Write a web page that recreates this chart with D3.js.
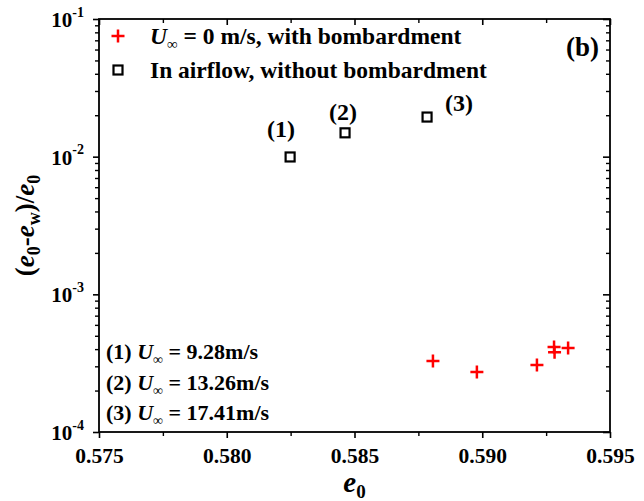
<!DOCTYPE html>
<html>
<head>
<meta charset="utf-8">
<script src="https://cdn.jsdelivr.net/npm/d3@7"></script>
<style>
  html, body { margin: 0; padding: 0; background: #fff; }
  svg { display: block; }
  text { font-family: "Liberation Serif", "Times New Roman", serif; font-weight: bold; fill: #000; }
</style>
</head>
<body>
<svg id="chart" width="644" height="501"></svg>
<script>
// Bare-surface emissivity without flow, with particle bombardment
const bombE0 = [0.58807, 0.58979, 0.59214, 0.59281, 0.59283, 0.59336];
const bombRatio = [3.28e-4, 2.73e-4, 3.07e-4, 4.14e-4, 3.80e-4, 4.07e-4];

// Emissivity drop in airflow, no bombardment
const airE0 = [0.58248, 0.58463, 0.58784];
const airRatio = [0.00995, 0.0149, 0.0194];
const airTags = ["(1)", "(2)", "(3)"];
const airSpeeds = ["9.28", "13.26", "17.41"];

// Axis ticks
const xMajor = [0.575, 0.580, 0.585, 0.590, 0.595];
const xMinor = [0.5775, 0.5825, 0.5875, 0.5925];
const yMajor = [1e-4, 1e-3, 1e-2, 1e-1];
const yExponents = ["-4", "-3", "-2", "-1"];

const legendLabels = [" = 0 m/s, with bombardment", "In airflow, without bombardment"];

const svg = d3.select("#chart");
const L = 99, R = 610, T = 19, B = 432;

const x = d3.scaleLinear().domain([0.575, 0.595]).range([L, R]);
const y = d3.scaleLog().domain([1e-4, 1e-1]).range([B, T]);

const yMinor = [];
yMajor.slice(0, 3).forEach(d => { for (let k = 2; k <= 9; k++) yMinor.push(d * k); });

// frame
svg.append("rect").attr("x", L).attr("y", T).attr("width", R - L).attr("height", B - T)
  .attr("fill", "none").attr("stroke", "#000").attr("stroke-width", 1.8);

// bottom axis (outward ticks with labels)
const gx = svg.append("g").attr("transform", `translate(0,${B})`)
  .call(d3.axisBottom(x).tickValues(xMajor).tickSize(6).tickPadding(10).tickFormat(d3.format(".3f")));
gx.select(".domain").remove();
gx.selectAll("line").attr("stroke-width", 1.6);
gx.selectAll("text").attr("font-size", 21.5).attr("font-family", null).attr("dy", "0.71em");
svg.append("g").attr("transform", `translate(0,${B})`)
  .call(d3.axisBottom(x).tickValues(xMinor).tickSize(4).tickFormat(""))
  .call(g => g.select(".domain").remove())
  .selectAll("line").attr("stroke-width", 1.4);

// top axis (inward ticks)
svg.append("g").attr("transform", `translate(0,${T})`)
  .call(d3.axisBottom(x).tickValues(xMajor).tickSize(6).tickFormat(""))
  .call(g => g.select(".domain").remove())
  .selectAll("line").attr("stroke-width", 1.6);
svg.append("g").attr("transform", `translate(0,${T})`)
  .call(d3.axisBottom(x).tickValues(xMinor).tickSize(4).tickFormat(""))
  .call(g => g.select(".domain").remove())
  .selectAll("line").attr("stroke-width", 1.4);

// left axis (outward ticks, power-of-ten labels)
const gy = svg.append("g").attr("transform", `translate(${L},0)`)
  .call(d3.axisLeft(y).tickValues(yMajor).tickSize(6).tickPadding(9).tickFormat(() => ""));
gy.select(".domain").remove();
gy.selectAll("line").attr("stroke-width", 1.6);
gy.selectAll(".tick text").each(function(d, i) {
  const t = d3.select(this).attr("font-size", 21).attr("font-family", null).attr("dy", "0.36em");
  t.append("tspan").text("10");
  t.append("tspan").attr("font-size", 14).attr("dy", "-0.75em").text(yExponents[i]);
});
svg.append("g").attr("transform", `translate(${L},0)`)
  .call(d3.axisLeft(y).tickValues(yMinor).tickSize(4).tickFormat(""))
  .call(g => g.select(".domain").remove())
  .selectAll("line").attr("stroke-width", 1.4);

// right axis (inward ticks)
svg.append("g").attr("transform", `translate(${R},0)`)
  .call(d3.axisRight(y).tickValues(yMajor).tickSize(-7).tickFormat(""))
  .call(g => g.select(".domain").remove())
  .selectAll("line").attr("stroke-width", 1.6);
svg.append("g").attr("transform", `translate(${R},0)`)
  .call(d3.axisRight(y).tickValues(yMinor).tickSize(-4).tickFormat(""))
  .call(g => g.select(".domain").remove())
  .selectAll("line").attr("stroke-width", 1.4);

// markers
const crossPath = "M-6.5,0H6.5M0,-6.5V6.5";
const squareSide = 9;

svg.append("g").selectAll("path").data(bombE0).join("path")
  .attr("transform", (d, i) => `translate(${x(d)},${y(bombRatio[i])})`)
  .attr("d", crossPath).attr("stroke", "#ff0000").attr("stroke-width", 2.5).attr("fill", "none");

svg.append("g").selectAll("rect").data(airE0).join("rect")
  .attr("x", d => x(d) - squareSide / 2)
  .attr("y", (d, i) => y(airRatio[i]) - squareSide / 2)
  .attr("width", squareSide).attr("height", squareSide)
  .attr("fill", "none").attr("stroke", "#000").attr("stroke-width", 2.2);

// point tags next to the airflow points
const tagOffset = [[-9, -20], [-2, -13], [32, -6]];
svg.append("g").selectAll("text").data(airE0).join("text")
  .attr("x", (d, i) => x(d) + tagOffset[i][0])
  .attr("y", (d, i) => y(airRatio[i]) + tagOffset[i][1])
  .attr("text-anchor", "middle").attr("font-size", 24)
  .text((d, i) => airTags[i]);

// legend
const leg = svg.append("g");
leg.append("path").attr("transform", "translate(118,36)").attr("d", crossPath)
  .attr("stroke", "#ff0000").attr("stroke-width", 2.5).attr("fill", "none");
leg.append("rect").attr("x", 118 - squareSide / 2).attr("y", 70 - squareSide / 2)
  .attr("width", squareSide).attr("height", squareSide)
  .attr("fill", "none").attr("stroke", "#000").attr("stroke-width", 2.2);
const l1 = leg.append("text").attr("x", 150).attr("y", 44).attr("font-size", 23.5);
l1.append("tspan").attr("font-style", "italic").text("U");
l1.append("tspan").attr("font-style", "italic").attr("font-size", 15).attr("dy", 5).text("\u221e");
l1.append("tspan").attr("dy", -5).text(legendLabels[0]);
leg.append("text").attr("x", 150).attr("y", 78).attr("font-size", 23.5).text(legendLabels[1]);

// panel tag
svg.append("text").attr("x", 599).attr("y", 56).attr("text-anchor", "end")
  .attr("font-size", 27).text("(b)");

// airflow speed notes
const notes = svg.append("g");
airSpeeds.forEach((s, i) => {
  const t = notes.append("text").attr("x", 106).attr("y", 359 + i * 30.5).attr("font-size", 22);
  t.append("tspan").text(airTags[i] + " ");
  t.append("tspan").attr("font-style", "italic").text("U");
  t.append("tspan").attr("font-style", "italic").attr("font-size", 14).attr("dy", 5).text("\u221e");
  t.append("tspan").attr("dy", -5).text(" = " + s + "m/s");
});

// axis titles
const xt = svg.append("text").attr("x", (L + R) / 2).attr("y", 492)
  .attr("text-anchor", "middle").attr("font-size", 29);
xt.append("tspan").attr("font-style", "italic").text("e");
xt.append("tspan").attr("font-size", 19).attr("dy", 6).text("0");

const yt = svg.append("text").attr("transform", `translate(34,${(T + B) / 2}) rotate(-90)`)
  .attr("text-anchor", "middle").attr("font-size", 27);
yt.append("tspan").text("(");
yt.append("tspan").attr("font-style", "italic").text("e");
yt.append("tspan").attr("font-size", 18).attr("dy", 6).text("0");
yt.append("tspan").attr("dy", -6).text("-");
yt.append("tspan").attr("font-style", "italic").text("e");
yt.append("tspan").attr("font-size", 18).attr("dy", 6).text("w");
yt.append("tspan").attr("dy", -6).text(")/");
yt.append("tspan").attr("font-style", "italic").text("e");
yt.append("tspan").attr("font-size", 18).attr("dy", 6).text("0");
</script>
</body>
</html>
